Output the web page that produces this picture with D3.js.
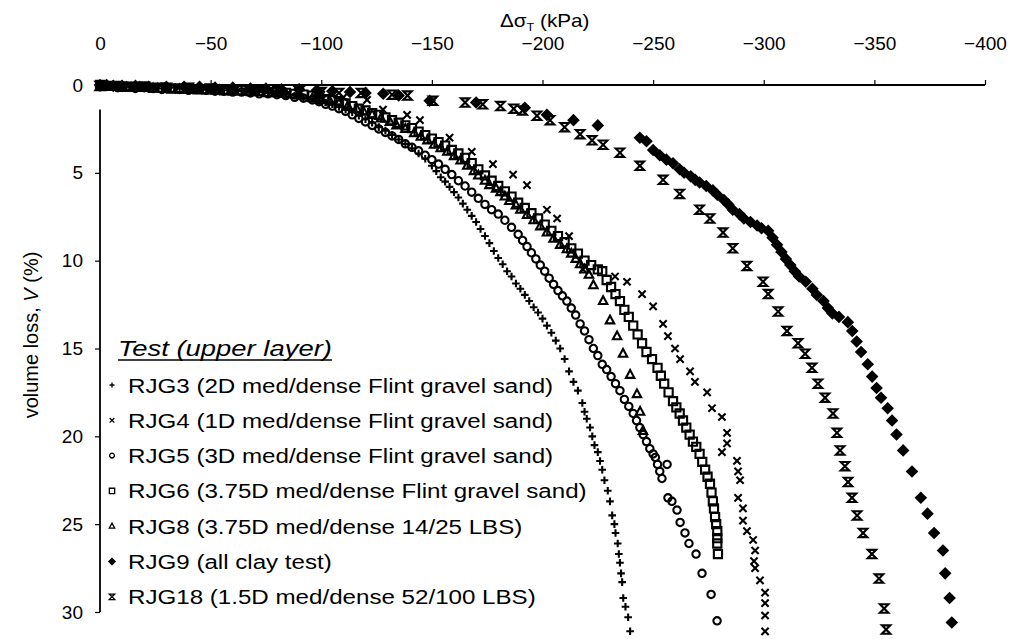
<!DOCTYPE html>
<html lang="en">
<head>
<meta charset="UTF-8">
<title>Volume loss against stress change</title>
<script src="https://d3js.org/d3.v7.min.js"></script>
<style>
  body { margin: 0; background: #fff; }
  svg text { font-family: "Liberation Sans", Arial, sans-serif; fill: #000; }
</style>
</head>
<body>
<div id="chart"></div>
<script>
// axis ticks
const xTicks = [0, -50, -100, -150, -200, -250, -300, -350, -400];
const yTicks = [0, 5, 10, 15, 20, 25, 30];

// [stress change (kPa), volume loss (%)]
const rjg3 = [[0,0.05],[-4,0.1],[-8,0.05],[-12,0.1],[-16,0.15],[-20,0.1],[-24,0.15],[-28,0.2],[-32,0.15],[-36,0.2],[-40,0.25],[-44,0.2],[-48,0.25],[-52,0.3],[-56,0.3],
  [-60,0.35],[-64,0.35],[-68,0.4],[-72,0.4],[-76,0.45],[-80,0.5],[-84,0.55],[-88,0.6],[-92,0.7],[-96,0.8],[-99,0.9],[-102,1.0],[-105,1.1],[-108,1.25],[-111,1.4],
  [-114,1.55],[-117,1.75],[-120,1.95],[-123,2.15],[-126,2.4],[-129,2.6],[-132,2.85],[-135,3.1],[-138,3.35],[-141,3.6],[-144,3.9],[-147,4.2],[-150,4.6],[-152,4.9],
  [-154,5.25],[-156,5.5],[-158,5.8],[-160,6.1],[-162,6.4],[-164,6.75],[-166,7.1],[-168,7.45],[-170,7.8],[-172,8.2],[-174,8.6],[-176,9.0],[-178,9.45],[-180,9.85],
  [-182,10.2],[-184,10.6],[-186,10.9],[-188,11.3],[-190,11.6],[-192,11.95],[-194,12.3],[-196,12.65],[-198,12.95],[-200,13.3],[-202,13.7],[-204,14.1],[-206,14.55],
  [-208,15.0],[-210,15.6],[-212,16.3],[-214,16.9],[-216,17.4],[-218,18.1],[-219,18.6],[-220,19.0],[-221.5,19.5],[-222.5,20.0],[-223.5,20.5],[-225,20.9],[-226,21.4],
  [-227,21.9],[-228,22.5],[-229.5,23.1],[-230.5,23.7],[-231.5,24.5],[-232.5,25.0],[-233,25.5],[-234,26.1],[-234.5,26.7],[-235,27.2],[-235.5,27.8],[-236,28.3],
  [-236.5,29.2],[-237.5,29.7],[-238.7,30.3],[-239.6,31.1]];

const rjg4 = [[0,0.05],[-10,0.1],[-25,0.2],[-40,0.25],[-55,0.3],[-70,0.4],[-85,0.45],[-100,0.55],[-110,0.7],[-120.7,0.85],[-127.9,1.4],[-138.8,1.7],[-144.6,2.0],
  [-158,3.0],[-168,3.8],[-177.6,4.5],[-186.7,5.1],[-193,5.7],[-202,7.1],[-206.6,7.6],[-212,8.6],[-218.3,10.5],[-232.8,10.9],[-238.2,11.2],[-245,11.9],[-250,12.6],
  [-254.5,13.6],[-256.7,14.3],[-259.9,15.0],[-262.2,15.6],[-266.7,16.3],[-268.9,16.9],[-274.4,17.5],[-276.6,18.4],[-281.1,18.9],[-283.4,19.8],[-283.4,20.4],
  [-281.1,20.9],[-287.9,21.4],[-288.4,22.0],[-289.3,22.5],[-288.4,23.5],[-290.6,24.1],[-290.6,24.8],[-292.4,25.4],[-295.2,25.9],[-296.1,26.5],[-295.6,27.1],
  [-296.1,27.5],[-298.3,28.2],[-300.6,28.9],[-300.6,29.5],[-300.6,30.2],[-300.6,31.1]];

const rjg5 = [[0,0.1],[-4,0.05],[-8,0.15],[-12,0.1],[-16,0.2],[-20,0.15],[-24,0.2],[-28,0.25],[-32,0.2],[-36,0.25],[-40,0.3],[-44,0.25],[-48,0.3],[-52,0.35],
  [-56,0.35],[-60,0.4],[-64,0.4],[-68,0.45],[-72,0.5],[-76,0.5],[-80,0.55],[-84,0.6],[-88,0.7],[-92,0.75],[-96,0.85],[-99,0.95],[-102,1.1],[-105,1.2],[-108,1.35],
  [-111,1.5],[-114,1.7],[-117,1.9],[-120,2.1],[-123,2.3],[-126,2.5],[-129,2.7],[-132,2.9],[-135,3.1],[-138,3.35],[-141,3.55],[-144,3.75],[-147,4.0],[-150,4.25],
  [-153,4.5],[-156,4.8],[-159,5.1],[-162,5.45],[-165,5.75],[-168,6.1],[-171,6.45],[-174,6.8],[-177,7.1],[-180,7.35],[-183,7.7],[-186,8.1],[-189,8.5],[-191,8.85],
  [-193,9.2],[-195,9.55],[-197,9.9],[-199,10.25],[-201,10.6],[-203,11.0],[-205,11.35],[-207,11.7],[-209,12.0],[-211,12.3],[-213,12.7],[-215,13.1],[-217,13.6],
  [-219,14.0],[-221,14.5],[-223,15.0],[-225,15.4],[-227,15.9],[-229,16.2],[-231,16.6],[-233,17.0],[-235,17.4],[-237,17.9],[-239,18.3],[-241,18.7],[-242.5,19.1],
  [-244,19.5],[-245.5,19.9],[-247,20.3],[-248.5,20.7],[-250,21.0],[-251,21.2],[-252,21.6],[-253,22.0],[-254,22.4],[-256.3,21.6],[-256.7,23.5],[-258.5,23.7],
  [-260.8,24.2],[-262.2,24.9],[-264.4,25.5],[-266.2,26.1],[-269.4,26.7],[-272.1,27.8],[-276.2,29.0],[-278.9,30.5]];

const rjg6 = [[0,0.0],[-4,0.05],[-8,0.05],[-12,0.1],[-16,0.1],[-20,0.1],[-24,0.15],[-28,0.15],[-32,0.2],[-36,0.2],[-40,0.2],[-44,0.25],[-48,0.25],[-52,0.25],
  [-56,0.3],[-60,0.3],[-64,0.3],[-68,0.35],[-72,0.35],[-76,0.4],[-80,0.4],[-84,0.45],[-88,0.5],[-92,0.55],[-96,0.6],[-99,0.7],[-102,0.8],[-105,0.85],[-108,0.95],
  [-111,1.05],[-114,1.2],[-117,1.35],[-120,1.45],[-123,1.6],[-126,1.7],[-129,1.85],[-132,2.0],[-135,2.15],[-138,2.3],[-141,2.45],[-144,2.65],[-147,2.85],[-150,3.05],
  [-153,3.25],[-156,3.45],[-159,3.7],[-162,3.9],[-165,4.15],[-168,4.45],[-171,4.8],[-174,5.15],[-177,5.45],[-180,5.75],[-183,6.05],[-186,6.35],[-189,6.7],[-192,7.0],
  [-195,7.3],[-198,7.6],[-201,7.95],[-204,8.3],[-207,8.6],[-210,8.95],[-213,9.3],[-216,9.6],[-219,10.0],[-222,10.25],[-225,10.5],[-227,10.6],[-229,11.1],[-231,11.5],
  [-233,11.9],[-235,12.3],[-237,12.8],[-239,13.2],[-241,13.7],[-243,14.2],[-245,14.7],[-247,15.2],[-249.5,15.6],[-252,16.1],[-253.5,16.55],[-255,17.0],[-257,17.5],
  [-259,18.0],[-260.5,18.35],[-262,18.7],[-263.5,19.1],[-265,19.5],[-266.5,19.9],[-268,20.3],[-269.5,20.6],[-271,21.0],[-272.2,21.45],[-273.5,21.9],[-274.6,22.3],
  [-275.7,22.7],[-276.4,23.2],[-277,23.7],[-277.5,24.1],[-278,24.6],[-278.5,25.0],[-279,25.4],[-279,25.8],[-279,26.1],[-279.3,26.7]];

const rjg8 = [[0,0.1],[-6,0.1],[-12,0.15],[-18,0.15],[-24,0.2],[-30,0.2],[-36,0.25],[-42,0.25],[-48,0.3],[-54,0.3],[-60,0.35],[-66,0.4],[-72,0.4],[-78,0.45],
  [-84,0.5],[-90,0.6],[-96,0.75],[-100,0.85],[-104,0.95],[-108,1.05],[-112,1.2],[-116,1.35],[-119,1.5],[-123,1.7],[-127,1.9],[-131,2.1],[-134,2.3],[-138,2.5],
  [-142,2.75],[-145,2.95],[-148,3.15],[-151,3.4],[-154,3.6],[-157,3.8],[-160,4.05],[-163,4.3],[-166,4.6],[-169,4.9],[-171,5.15],[-174,5.45],[-176,5.7],[-179,5.9],
  [-181,6.1],[-183,6.35],[-185,6.6],[-188,6.85],[-190,7.1],[-193,7.4],[-196,7.7],[-199,8.05],[-202,8.4],[-205,8.75],[-208,9.1],[-211,9.35],[-213,9.6],[-215,9.9],
  [-217,10.2],[-219,10.5],[-221,10.8],[-223,11.4],[-227.4,12.3],[-230.5,13.4],[-233.7,14.3],[-236.4,15.3],[-239.6,16.5],[-242.7,17.6],[-244.1,18.6],[-245.4,19.7]];

const rjg9 = [[0,0],[-3,0.0],[-6,0.05],[-10,0.05],[-16,0.05],[-22,0.1],[-30,0.1],[-38,0.1],[-45,0.1],[-52,0.15],[-60,0.15],[-68,0.2],[-75,0.2],[-82,0.25],
  [-90,0.25],[-98,0.3],[-105,0.35],[-113,0.4],[-120,0.45],[-128,0.5],[-135,0.6],[-149,0.9],[-170,1.0],[-192,1.3],[-202,1.7],[-214,2.0],[-225,2.3],[-244,3.0],
  [-247,3.2],[-250,3.7],[-253,4.0],[-256,4.25],[-259,4.45],[-262,4.8],[-264,5.0],[-267,5.2],[-269,5.4],[-271,5.55],[-274,5.75],[-277,6.0],[-279,6.25],[-282,6.55],
  [-284,6.8],[-286,7.1],[-289,7.35],[-291,7.6],[-294,7.8],[-297,8.0],[-299,8.15],[-302,8.3],[-304,8.7],[-306,9.1],[-308,9.5],[-310,9.9],[-312,10.25],[-314,10.6],
  [-316,10.9],[-319,11.2],[-322,11.6],[-324,11.95],[-327,12.3],[-329,12.7],[-331,13.0],[-334,13.2],[-338,13.5],[-340,14.0],[-342,14.6],[-344,15.2],[-347,15.9],
  [-349,16.6],[-351,17.25],[-353,17.8],[-356,18.4],[-358,19.1],[-360,19.9],[-363,20.8],[-367,22.0],[-371,23.5],[-374,24.4],[-377,25.5],[-381,26.5],[-382,27.8],
  [-384,29.2],[-385,30.6]];

const rjg18 = [[0,0.05],[-10,0.1],[-20,0.1],[-30,0.15],[-40,0.15],[-50,0.2],[-60,0.25],[-70,0.3],[-80,0.3],[-90,0.35],[-100,0.4],[-108,0.45],[-118,0.45],
  [-132,0.55],[-139,0.6],[-150.5,0.9],[-165,1.0],[-173,1.1],[-181,1.2],[-187,1.35],[-191,1.45],[-197.5,1.75],[-203.4,2.0],[-210,2.4],[-217,2.8],[-222.4,3.15],
  [-227.4,3.4],[-235,3.85],[-244,4.6],[-254.5,5.4],[-262,6.2],[-271,7.1],[-275.7,7.6],[-281.6,8.4],[-286,9.3],[-292.4,10.3],[-299.7,11.2],[-302,11.9],[-306.5,12.9],
  [-310.5,14.0],[-315.5,14.7],[-318.7,15.3],[-321.8,16.1],[-324.5,17.0],[-327.7,17.8],[-331.3,18.7],[-333.1,19.8],[-334.5,20.8],[-336.7,21.7],[-338.1,22.6],
  [-339.9,23.5],[-342.2,24.5],[-344.9,25.5],[-348.9,26.7],[-352.1,28.1],[-354.4,29.8],[-355.3,31.0]];

const legendTitle = "Test (upper layer)";
const legendLabels = [
  "RJG3 (2D med/dense Flint gravel sand)",
  "RJG4 (1D med/dense Flint gravel sand)",
  "RJG5 (3D med/dense Flint gravel sand)",
  "RJG6 (3.75D med/dense Flint gravel sand)",
  "RJG8 (3.75D med/dense 14/25 LBS)",
  "RJG9 (all clay test)",
  "RJG18 (1.5D med/dense 52/100 LBS)"
];
const markerTypes = ["plus", "cross", "circle", "square", "triangle", "diamond", "hourglass"];
const seriesData = [rjg3, rjg4, rjg5, rjg6, rjg8, rjg9, rjg18];

// marker shapes, centred on 0,0
function markerPath(type, k) {
  switch (type) {
    case "plus": { const s = 3.8 * k; return `M${-s},0H${s}M0,${-s}V${s}`; }
    case "cross": { const s = 3.6 * k; return `M${-s},${-s}L${s},${s}M${-s},${s}L${s},${-s}`; }
    case "circle": { const r = 3.7 * k; return `M${r},0A${r},${r} 0 1 1 ${-r},0A${r},${r} 0 1 1 ${r},0Z`; }
    case "square": { const h = 4.1 * k; return `M${-h},${-h}H${h}V${h}H${-h}Z`; }
    case "triangle": return `M0,${-4.8 * k}L${4.2 * k},${3 * k}H${-4.2 * k}Z`;
    case "diamond": { const d = 4.8 * k; return `M0,${-d}L${d},0L0,${d}L${-d},0Z`; }
    case "hourglass": { const h = 4.2 * k; return `M${-h},${-h}H${h}L${-h},${h}H${h}Z`; }
  }
}
const filled = t => t === "diamond";

const W = 1011, H = 639;
const x = d3.scaleLinear().domain([0, -400]).range([100, 985]);
const y = d3.scaleLinear().domain([0, 30]).range([85, 612]);

const svg = d3.select("#chart").append("svg")
  .attr("width", W).attr("height", H);

// top axis (stress)
const xAxis = svg.append("g")
  .attr("transform", `translate(0,${y(0)})`)
  .call(d3.axisTop(x).tickValues(xTicks).tickSize(5).tickSizeOuter(0).tickPadding(30));
xAxis.select(".domain").attr("stroke-width", 2).attr("d", `M${x(0) - 3},0H${x(-400)}`);
xAxis.selectAll(".tick line").attr("stroke-width", 1.2);
xAxis.selectAll(".tick text").attr("font-size", 19);
xAxis.selectAll(".tick").filter(d => d === 0).select("line").remove();

// left axis (volume loss)
const yAxis = svg.append("g")
  .attr("transform", `translate(${x(0)},0)`)
  .call(d3.axisLeft(y).tickValues(yTicks).tickSize(5).tickSizeOuter(0).tickPadding(12));
yAxis.select(".domain").attr("stroke-width", 1.8).attr("d", `M0,${y(1.4)}V${y(30)}`);
yAxis.selectAll(".tick line").attr("stroke-width", 1.2);
yAxis.selectAll(".tick text").attr("font-size", 19);
yAxis.selectAll(".tick").filter(d => d === 0).select("line").remove();

// axis titles
const xt = svg.append("text")
  .attr("transform", "translate(500,27) scale(1.15,1)")
  .attr("font-size", 18).attr("fill", "#222");
xt.append("tspan").text("\u0394\u03c3");
xt.append("tspan").attr("font-size", 11).attr("dy", 4).text("T");
xt.append("tspan").attr("dy", -4).text(" (kPa)");

const yt = svg.append("text")
  .attr("transform", "translate(38,335) rotate(-90)")
  .attr("text-anchor", "middle").attr("font-size", 20);
yt.append("tspan").text("volume loss, ");
yt.append("tspan").attr("font-style", "italic").text("V");
yt.append("tspan").text(" (%)");

// data markers
const plot = svg.append("g");
seriesData.forEach((pts, i) => {
  const t = markerTypes[i];
  plot.append("g").selectAll("path")
    .data(pts)
    .join("path")
    .attr("transform", d => `translate(${x(d[0])},${y(d[1])})`)
    .attr("d", markerPath(t, 1))
    .attr("fill", filled(t) ? "#000" : "none")
    .attr("stroke", "#000")
    .attr("stroke-width", 2.1);
});

// legend
const legend = svg.append("g").attr("transform", "translate(118,356)");
const lt = legend.append("text")
  .attr("transform", "scale(1.22,1)")
  .attr("font-size", 22.5).attr("font-style", "italic")
  .text(legendTitle);
const ltw = lt.node().getBBox().width * 1.22;
legend.append("line")
  .attr("x1", 0).attr("x2", ltw).attr("y1", 4).attr("y2", 4)
  .attr("stroke", "#000").attr("stroke-width", 1.5);

legendLabels.forEach((lab, i) => {
  const row = legend.append("g").attr("transform", `translate(0,${29 + i * 35.3})`);
  row.append("path")
    .attr("transform", "translate(-6,0)")
    .attr("d", markerPath(markerTypes[i], 0.65))
    .attr("fill", filled(markerTypes[i]) ? "#000" : "none")
    .attr("stroke", "#000").attr("stroke-width", 1.3);
  row.append("text")
    .attr("transform", "translate(10,0) scale(1.15,1)")
    .attr("dy", "0.36em")
    .attr("font-size", 21)
    .text(lab);
});
</script>
</body>
</html>
